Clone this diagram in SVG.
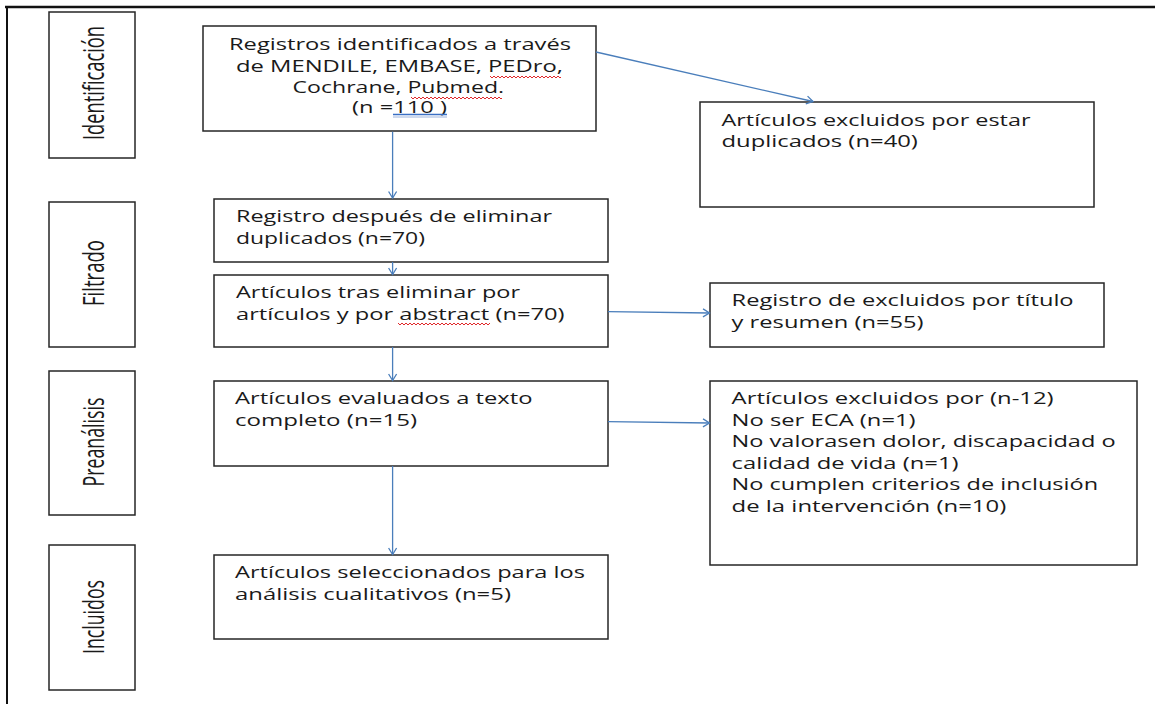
<svg xmlns="http://www.w3.org/2000/svg" width="1155" height="704" viewBox="0 0 1155 704">
<style>
  .box { fill: #ffffff; stroke: #262626; stroke-width: 1.5; }
  .t { font-family: "Open Sans", "Liberation Sans", sans-serif; font-size: 15.5px; fill: #1a1a1a; }
  .lab { font-family: "Open Sans", "Liberation Sans", sans-serif; font-size: 20px; fill: #1a1a1a; text-anchor: middle; }
  .conn { fill: none; stroke: #4a7ebb; stroke-width: 1.3; }
  .frame { fill: none; stroke: #111111; }
  .sq { fill: none; stroke: #e0282a; stroke-width: 1; }
</style>
<defs>
  <marker id="arr" markerUnits="userSpaceOnUse" markerWidth="12" markerHeight="12" refX="8" refY="5" orient="auto">
    <path d="M1.5,1 L8,5 L1.5,9" fill="none" stroke="#4a7ebb" stroke-width="1.3"/>
  </marker>
</defs>
<rect x="0" y="0" width="1155" height="704" fill="#ffffff"/>
<g id="frame">
  <line class="frame" x1="5" y1="7" x2="1155" y2="7" stroke-width="2.6"/>
  <line class="frame" x1="7" y1="6" x2="7" y2="704" stroke-width="2"/>
</g>

<g id="stage-identificacion">
  <rect class="box" x="49" y="12" width="86" height="146"/>
  <text class="lab" transform="translate(103.5,83) rotate(-90) scale(1,1.45)" textLength="114" lengthAdjust="spacingAndGlyphs">Identificación</text>
</g>
<g id="stage-filtrado">
  <rect class="box" x="49" y="202" width="86" height="145"/>
  <text class="lab" transform="translate(103.5,273) rotate(-90) scale(1,1.45)" textLength="66" lengthAdjust="spacingAndGlyphs">Filtrado</text>
</g>
<g id="stage-preanalisis">
  <rect class="box" x="49" y="371" width="86" height="144"/>
  <text class="lab" transform="translate(103.5,442) rotate(-90) scale(1,1.45)" textLength="89" lengthAdjust="spacingAndGlyphs">Preanálisis</text>
</g>
<g id="stage-incluidos">
  <rect class="box" x="49" y="545" width="86" height="145"/>
  <text class="lab" transform="translate(103.5,617) rotate(-90) scale(1,1.45)" textLength="74" lengthAdjust="spacingAndGlyphs">Incluidos</text>
</g>

<g id="n-registros">
  <rect class="box" x="203" y="26" width="393" height="105"/>
  <text class="t" x="229" y="50" textLength="342" lengthAdjust="spacingAndGlyphs">Registros identificados a través</text>
  <text class="t" x="236" y="71.5" textLength="327" lengthAdjust="spacingAndGlyphs">de MENDILE, EMBASE, PEDro,</text>
  <text class="t" x="292.6" y="92.5" textLength="211.5" lengthAdjust="spacingAndGlyphs">Cochrane, Pubmed.</text>
  <text class="t" x="352" y="113" textLength="95" lengthAdjust="spacingAndGlyphs">(n =110 )</text>
  <path class="sq" d="M490,76 l2,2 l2,-2 l2,2 l2,-2 l2,2 l2,-2 l2,2 l2,-2 l2,2 l2,-2 l2,2 l2,-2 l2,2 l2,-2 l2,2 l2,-2 l2,2 l2,-2 l2,2 l2,-2 l2,2 l2,-2 l2,2 l2,-2 l2,2 l2,-2 l2,2 l2,-2 l2,2 l2,-2 l2,2 l2,-2 l2,2 l2,-2 l2,2 l1,-1"/>
  <path class="sq" d="M411,97 l2,2 l2,-2 l2,2 l2,-2 l2,2 l2,-2 l2,2 l2,-2 l2,2 l2,-2 l2,2 l2,-2 l2,2 l2,-2 l2,2 l2,-2 l2,2 l2,-2 l2,2 l2,-2 l2,2 l2,-2 l2,2 l2,-2 l2,2 l2,-2 l2,2 l2,-2 l2,2 l2,-2 l2,2 l2,-2 l2,2 l2,-2 l2,2 l2,-2 l2,2 l2,-2 l2,2 l2,-2 l2,2 l2,-2 l2,2 l2,-2 l2,2 l1,-1"/>
  <line x1="393" y1="114.5" x2="447" y2="114.5" stroke="#3a6fc4" stroke-width="1.5"/>
  <line x1="393" y1="117" x2="447" y2="117" stroke="#9db3dc" stroke-width="1"/>
</g>

<g id="n-excl-duplicados">
  <rect class="box" x="700" y="102" width="394" height="105"/>
  <text class="t" x="721.5" y="125.5" textLength="309" lengthAdjust="spacingAndGlyphs">Artículos excluidos por estar</text>
  <text class="t" x="721.5" y="147.3" textLength="196.4" lengthAdjust="spacingAndGlyphs">duplicados (n=40)</text>
</g>

<g id="n-sin-duplicados">
  <rect class="box" x="214" y="199" width="394" height="63"/>
  <text class="t" x="236" y="222" textLength="316" lengthAdjust="spacingAndGlyphs">Registro después de eliminar</text>
  <text class="t" x="236" y="243.5" textLength="189" lengthAdjust="spacingAndGlyphs">duplicados (n=70)</text>
</g>

<g id="n-tras-abstract">
  <rect class="box" x="214" y="275" width="394" height="72"/>
  <text class="t" x="236" y="298" textLength="284" lengthAdjust="spacingAndGlyphs">Artículos tras eliminar por</text>
  <text class="t" x="236" y="320" textLength="328.5" lengthAdjust="spacingAndGlyphs">artículos y por abstract (n=70)</text>
  <path class="sq" d="M398,323 l2,2 l2,-2 l2,2 l2,-2 l2,2 l2,-2 l2,2 l2,-2 l2,2 l2,-2 l2,2 l2,-2 l2,2 l2,-2 l2,2 l2,-2 l2,2 l2,-2 l2,2 l2,-2 l2,2 l2,-2 l2,2 l2,-2 l2,2 l2,-2 l2,2 l2,-2 l2,2 l2,-2 l2,2 l2,-2 l2,2 l2,-2 l2,2 l2,-2 l2,2 l2,-2 l2,2 l2,-2 l2,2 l2,-2 l2,2 l2,-2 l2,2 l2,-2"/>
</g>

<g id="n-excl-titulo">
  <rect class="box" x="710" y="283" width="394" height="64"/>
  <text class="t" x="731.6" y="305.7" textLength="342" lengthAdjust="spacingAndGlyphs">Registro de excluidos por título</text>
  <text class="t" x="731.6" y="328" textLength="192" lengthAdjust="spacingAndGlyphs">y resumen (n=55)</text>
</g>

<g id="n-texto-completo">
  <rect class="box" x="214" y="381" width="394" height="85"/>
  <text class="t" x="235" y="404" textLength="297.5" lengthAdjust="spacingAndGlyphs">Artículos evaluados a texto</text>
  <text class="t" x="235" y="425.5" textLength="182" lengthAdjust="spacingAndGlyphs">completo (n=15)</text>
</g>

<g id="n-excl-12">
  <rect class="box" x="710" y="381" width="427" height="184"/>
  <text class="t" x="731.6" y="404" textLength="322" lengthAdjust="spacingAndGlyphs">Artículos excluidos por (n-12)</text>
  <text class="t" x="731.6" y="425.5" textLength="184" lengthAdjust="spacingAndGlyphs">No ser ECA (n=1)</text>
  <text class="t" x="731.6" y="447" textLength="384" lengthAdjust="spacingAndGlyphs">No valorasen dolor, discapacidad o</text>
  <text class="t" x="731.6" y="468.5" textLength="227" lengthAdjust="spacingAndGlyphs">calidad de vida (n=1)</text>
  <text class="t" x="731.6" y="490" textLength="366.5" lengthAdjust="spacingAndGlyphs">No cumplen criterios de inclusión</text>
  <text class="t" x="731.6" y="511.5" textLength="274.6" lengthAdjust="spacingAndGlyphs">de la intervención (n=10)</text>
</g>

<g id="n-incluidos">
  <rect class="box" x="214" y="555" width="394" height="84"/>
  <text class="t" x="235" y="578" textLength="350" lengthAdjust="spacingAndGlyphs">Artículos seleccionados para los</text>
  <text class="t" x="235" y="599.5" textLength="276" lengthAdjust="spacingAndGlyphs">análisis cualitativos (n=5)</text>
</g>

<g id="connectors">
  <path class="conn" d="M392.6,131.7 V198" marker-end="url(#arr)"/>
  <path class="conn" d="M596,52 L813,101.5" marker-end="url(#arr)"/>
  <path class="conn" d="M392.6,262 V274.5" marker-end="url(#arr)"/>
  <path class="conn" d="M392.6,347 V380.5" marker-end="url(#arr)"/>
  <path class="conn" d="M608,311.7 L709.5,313" marker-end="url(#arr)"/>
  <path class="conn" d="M608,421.7 L709.5,423" marker-end="url(#arr)"/>
  <path class="conn" d="M392.6,466 V554.5" marker-end="url(#arr)"/>
</g>
</svg>
